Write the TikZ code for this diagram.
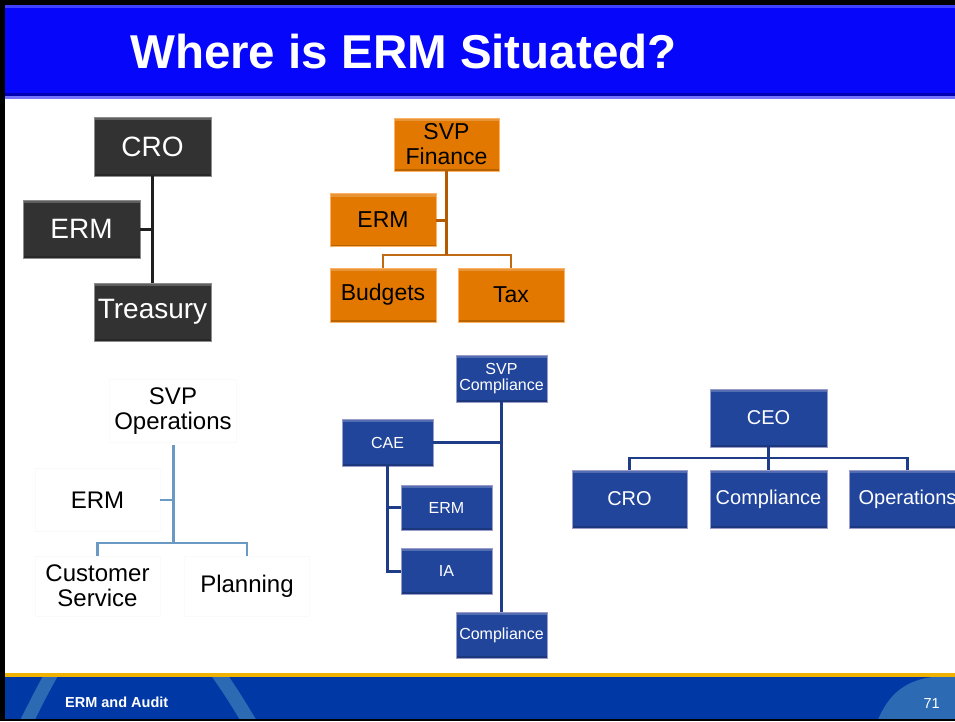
\documentclass[tikz,border=0pt]{standalone}
\usepackage{fontspec}
\setmainfont{Liberation Sans}
\definecolor{titleblue}{RGB}{6,6,250}
\definecolor{foot}{RGB}{0,56,166}
\definecolor{footarc}{RGB}{44,106,180}
\definecolor{footline}{RGB}{240,178,0}
\definecolor{darkfill}{RGB}{50,50,50}
\definecolor{orfill}{RGB}{226,120,0}
\definecolor{orline}{RGB}{180,90,0}
\definecolor{orline2}{RGB}{194,105,20}
\definecolor{blfill}{RGB}{34,69,156}
\definecolor{blline}{RGB}{30,60,135}
\definecolor{ltline}{RGB}{106,154,196}
\tikzset{
  x=1pt,y=-1pt,
  bevel/.style={path picture={\fill[white,opacity=0.22] (path picture bounding box.north west) rectangle ([yshift=-3pt]path picture bounding box.north east);
     \fill[black,opacity=0.18] (path picture bounding box.south west) rectangle ([yshift=2pt]path picture bounding box.south east);}},
  darkbox/.style={rectangle,inner sep=0pt,fill=darkfill,draw=black!45,line width=0.8pt,text=white,bevel,font=\fontsize{28}{30}\selectfont},
  orbox/.style={rectangle,inner sep=0pt,fill=orfill,draw=orange!60!white,line width=0.8pt,text=black,bevel,align=center,font=\fontsize{23}{25}\selectfont},
  plainbox/.style={rectangle,inner sep=0pt,fill=white,draw=black!2,line width=0.6pt,text=black,align=center,font=\fontsize{24}{25}\selectfont},
  blbox/.style={rectangle,inner sep=0pt,fill=blfill,draw=blue!30!gray!60,line width=0.8pt,text=white,bevel,align=center,font=\fontsize{16}{15.5}\selectfont},
  bigblbox/.style={blbox,font=\fontsize{20}{22}\selectfont},
  darkcon/.style={draw=black!88,line width=3pt},
  orcon/.style={draw=orline,line width=3pt},
  orcon2/.style={draw=orline2,line width=2pt},
  ltcon/.style={draw=ltline,line width=3pt},
  ltcon2/.style={draw=ltline,line width=2.5pt},
  blcon/.style={draw=blline,line width=3pt},
  blcon2/.style={draw=blline,line width=2.2pt},
}
\begin{document}
\begin{tikzpicture}
\clip (0,0) rectangle (955,721);
\fill[white] (0,0) rectangle (955,721);
% title bar
\fill[black] (0,0) rectangle (955,5);
\fill[titleblue] (5,5) rectangle (955,96);
\fill[blue!75!white] (5,5) rectangle (955,8);
\fill[blue!70!black] (5,93) rectangle (955,96);
\fill[blue!55!white] (5,96) rectangle (955,99);
\node[anchor=base west,text=white,inner sep=0pt,font=\bfseries\fontsize{47.5}{50}\selectfont] (title) at (130,68) {Where is ERM Situated?};
% footer
\fill[footline] (5,673) rectangle (955,677);
\fill[foot] (5,677) rectangle (955,719);
\begin{scope}
\clip (5,677) rectangle (955,719);
\draw[footarc,line width=13pt] (52,673) .. controls (40,695) .. (26,723);
\draw[footarc,line width=14pt] (218,673) .. controls (233,695) .. (250,723);
\fill[footarc] (877,722) .. controls (889,692) and (908,677) .. (945,676) -- (960,676) -- (960,722) -- cycle;
\end{scope}
\fill[black] (0,719) rectangle (955,721);
\fill[black] (0,0) rectangle (5,721);
\node[anchor=base west,text=white,inner sep=0pt,font=\bfseries\fontsize{14.5}{16}\selectfont] (foottext) at (65,707) {ERM and Audit};
\node[anchor=base east,text=white,inner sep=0pt,font=\fontsize{14.5}{16}\selectfont] (pagenum) at (940,708) {71};
% dark group
\node[darkbox,minimum width=117,minimum height=59] (dcro) at (152.5,146.5) {CRO};
\node[darkbox,minimum width=117,minimum height=58] (derm) at (81.5,229) {ERM};
\node[darkbox,minimum width=117,minimum height=58] (dtre) at (152.5,312) {Treasury};
\draw[darkcon] (dcro.south) -- (dtre.north);
\draw[darkcon] (derm.east) -- (derm.east -| dcro.south);
% orange group
\node[orbox,minimum width=105,minimum height=53] (osvp) at (446.5,144.5) {SVP\\Finance};
\node[orbox,minimum width=106,minimum height=53] (oerm) at (383,220) {ERM};
\node[orbox,minimum width=106,minimum height=54] (obud) at (383,295) {Budgets};
\node[orbox,minimum width=106,minimum height=54] (otax) at (511,295) {Tax};
\coordinate (ojn) at (446.5,255);
\draw[orcon2] (obud.north) |- (ojn) -| (otax.north);
\draw[orcon] (osvp.south) -- (ojn);
\draw[orcon] (oerm.east) -- (oerm.east -| osvp.south);
% plain group
\node[plainbox,minimum width=127,minimum height=63] (lsvp) at (173,411) {SVP\\Operations};
\node[plainbox,minimum width=125,minimum height=63] (lerm) at (97.5,500) {ERM};
\node[plainbox,minimum width=125,minimum height=60] (lcus) at (97.5,586) {Customer\\Service};
\node[plainbox,minimum width=125,minimum height=60] (lpla) at (247,586) {Planning};
\coordinate (ljn) at (173,543);
\draw[ltcon2] (lcus.north) |- (ljn) -| (lpla.north);
\draw[ltcon] ([yshift=-2pt]lsvp.south) -- (ljn);
\draw[ltcon2] (lerm.east) -- (lerm.east -| lsvp.south);
% middle blue group
\node[blbox,minimum width=91,minimum height=47] (msvp) at (501.5,378.5) {SVP\\Compliance};
\node[blbox,minimum width=91,minimum height=47] (mcae) at (387.5,442.5) {CAE};
\node[blbox,minimum width=91,minimum height=45] (merm) at (446.5,507.5) {ERM};
\node[blbox,minimum width=91,minimum height=46] (mia) at (446.5,571) {IA};
\node[blbox,minimum width=91,minimum height=46] (mcom) at (501.5,635) {Compliance};
\draw[blcon] (msvp.south) -- (mcom.north);
\draw[blcon] (mcae.east) -- (mcae.east -| msvp.south);
\draw[blcon] (mcae.south) |- (mia.west);
\draw[blcon] (merm.west) -- (merm.west -| mcae.south);
% right blue group
\node[bigblbox,minimum width=117,minimum height=58] (rceo) at (768.5,418) {CEO};
\node[bigblbox,minimum width=115,minimum height=58] (rcro) at (629.5,499) {CRO};
\node[bigblbox,minimum width=117,minimum height=58] (rcom) at (768.5,499) {Compliance};
\node[bigblbox,minimum width=117,minimum height=58] (rops) at (907.5,499) {Operations};
\coordinate (rjn) at (768.5,458);
\draw[blcon2] (rcro.north) |- (rjn) -| (rops.north);
\draw[blcon] (rceo.south) -- (rcom.north);
\end{tikzpicture}
\end{document}
